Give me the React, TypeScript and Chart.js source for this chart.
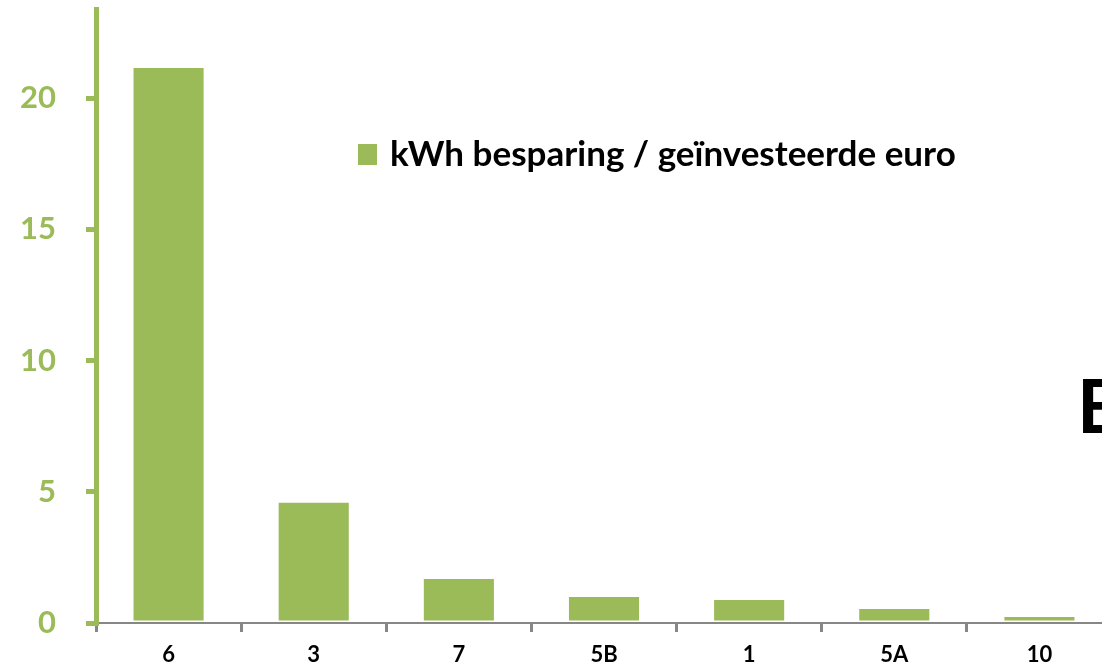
import React, { useEffect, useRef } from "react";
import { Chart, registerables } from "chart.js";

Chart.register(...registerables);

const categories = ["6", "3", "7", "5B", "1", "5A", "10"];
const values = [21.15, 4.58, 1.68, 0.99, 0.88, 0.53, 0.23];
const yTickValues = [0, 5, 10, 15, 20];
const seriesLabel = "kWh besparing / geïnvesteerde euro";
const sideTitle = "E";

const GREEN = "#9BBB59";
const GRAY = "#878787";
const FONT = "Lato, 'Open Sans', sans-serif";

const overlayPlugin = {
  id: "overlay",
  afterDraw(chart: any) {
    const ctx = chart.ctx;
    ctx.save();
    // legend
    ctx.fillStyle = GREEN;
    ctx.fillRect(358, 144, 19, 21);
    ctx.fillStyle = "#000";
    ctx.textBaseline = "alphabetic";
    ctx.textAlign = "left";
    ctx.font = `bold 35px ${FONT}`;
    ctx.fillText(chart.data.datasets[0].label, 390, 166);
    // partial title at right edge
    ctx.font = `bold 75px ${FONT}`;
    ctx.fillText(sideTitle, 1077, 433);
    ctx.restore();
  },
};

export default function App() {
  const ref = useRef<HTMLCanvasElement | null>(null);
  useEffect(() => {
    if (!ref.current) return;
    const chart = new Chart(ref.current, {
      type: "bar",
      data: {
        labels: categories,
        datasets: [
          {
            label: seriesLabel,
            data: values,
            backgroundColor: GREEN,
            borderWidth: 0,
            categoryPercentage: 1,
            barPercentage: 0.483,
          },
        ],
      },
      options: {
        responsive: false,
        animation: false,
        maintainAspectRatio: false,
        layout: { padding: { top: 9, right: 0, left: 0, bottom: 0 } },
        plugins: { legend: { display: false }, tooltip: { enabled: false } },
        scales: {
          x: {
            grid: {
              display: true,
              drawOnChartArea: false,
              offset: true,
              color: GRAY,
              tickLength: 9,
              lineWidth: 3,
            },
            border: { display: true, color: GRAY, width: 2 },
            ticks: {
              color: "#000",
              font: { family: FONT, size: 22, weight: "bold" },
              padding: 10,
              maxRotation: 0,
            },
            afterFit(scale: any) {
              scale.height = 47;
              scale.paddingLeft = 0;
              scale.paddingRight = 0;
            },
          },
          y: {
            min: 0,
            max: 23.4,
            afterBuildTicks(scale: any) {
              scale.ticks = yTickValues.map((v) => ({ value: v }));
            },
            grid: {
              display: true,
              drawOnChartArea: false,
              color: GREEN,
              tickLength: 10,
              lineWidth: 5,
            },
            border: { display: true, color: GREEN, width: 5 },
            ticks: {
              color: GREEN,
              font: { family: FONT, size: 31, weight: "bold" },
              padding: 30,
            },
            afterFit(scale: any) {
              scale.width = 96;
              scale.paddingTop = 0;
              scale.paddingBottom = 0;
            },
          },
        },
      },
      plugins: [overlayPlugin],
    });
    return () => chart.destroy();
  }, []);
  return (
    <div
      style={{
        position: "absolute",
        left: 0,
        top: 0,
        width: 1102,
        height: 670,
        overflow: "hidden",
        background: "#fff",
      }}
    >
      <canvas ref={ref} width={1112} height={670} style={{ display: "block" }} />
    </div>
  );
}
